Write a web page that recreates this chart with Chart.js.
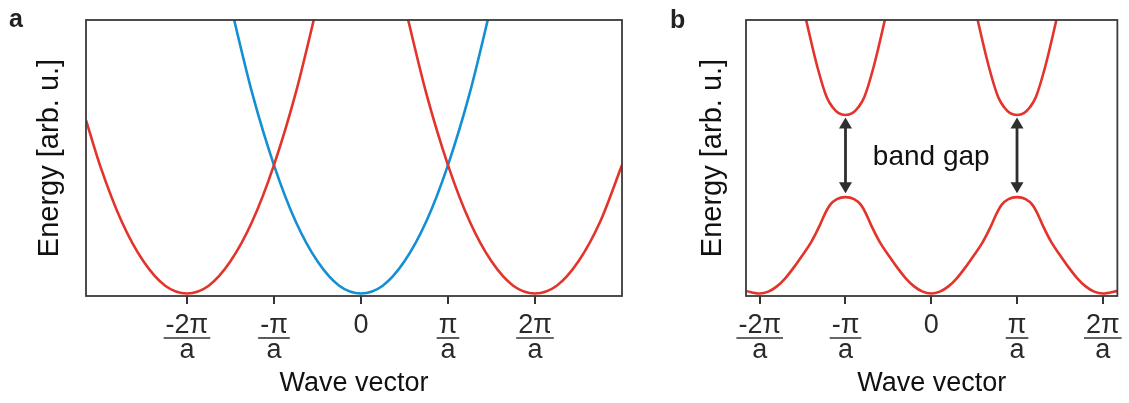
<!DOCTYPE html>
<html lang="en">
<head>
    <meta charset="UTF-8">
    <title>Band structure</title>
    <script src="https://cdn.jsdelivr.net/npm/chart.js"></script>
    <style>
        body {
            margin: 0;
            padding: 0;
            background: #ffffff;
            font-family: "Liberation Sans", Arial, sans-serif;
        }
        .wrap {
            position: relative;
            width: 1129px;
            height: 403px;
            overflow: hidden;
        }
        #chartA {
            position: absolute;
            left: 0;
            top: 0;
        }
        #chartB {
            position: absolute;
            left: 640px;
            top: 0;
        }
        .panel {
            position: absolute;
            font-weight: bold;
            font-size: 25px;
            line-height: 25px;
            color: #222;
        }
    </style>
</head>
<body>
    <div class="wrap">
        <canvas id="chartA" width="640" height="403"></canvas>
        <canvas id="chartB" width="489" height="403"></canvas>
        <div class="panel" style="left: 9px; top: 6px;">a</div>
        <div class="panel" style="left: 670px; top: 7px;">b</div>
    </div>

    <script>
        // tick positions in units of pi/a
        const tickVals = [-2, -1, 0, 1, 2];
        const tickNum = ['-2π', '-π', '0', 'π', '2π'];
        const tickDen = ['a', 'a', '', 'a', 'a'];

        // panel a: free electron parabolas
        const aBlueK = [-1.5, -1.25, -1, -0.75, -0.5, -0.25, 0, 0.25, 0.5, 0.75, 1, 1.25, 1.5];
        const aBlueE = [2.25, 1.56, 1, 0.56, 0.25, 0.06, 0, 0.06, 0.25, 0.56, 1, 1.56, 2.25];
        const aRedLeftK = [-3.16, -3, -2.75, -2.5, -2.25, -2, -1.75, -1.5, -1.25, -1, -0.75, -0.5];
        const aRedLeftE = [1.35, 1, 0.56, 0.25, 0.06, 0, 0.06, 0.25, 0.56, 1, 1.56, 2.25];
        const aRedRightK = [0.5, 0.75, 1, 1.25, 1.5, 1.75, 2, 2.25, 2.5, 2.75, 3];
        const aRedRightE = [2.25, 1.56, 1, 0.56, 0.25, 0.06, 0, 0.06, 0.25, 0.56, 1];

        // panel b: nearly free electron bands
        const bLowerK = [-2.17, -2, -1.9, -1.8, -1.7, -1.6, -1.5, -1.4, -1.3, -1.24, -1.18, -1.1, -1,
                         -0.9, -0.82, -0.76, -0.7, -0.6, -0.5, -0.4, -0.3, -0.2, -0.1, 0,
                         0.1, 0.2, 0.3, 0.4, 0.5, 0.6, 0.7, 0.76, 0.82, 0.9,
                         1, 1.1, 1.18, 1.24, 1.3, 1.4, 1.5, 1.6, 1.7, 1.8, 1.9, 2, 2.17];
        const bLowerE = [0.02, 0, 0.014, 0.055, 0.12, 0.205, 0.30, 0.40, 0.53, 0.62, 0.69, 0.735, 0.75,
                         0.735, 0.69, 0.62, 0.53, 0.40, 0.30, 0.205, 0.12, 0.055, 0.014, 0,
                         0.014, 0.055, 0.12, 0.205, 0.30, 0.40, 0.53, 0.62, 0.69, 0.735,
                         0.75, 0.735, 0.69, 0.62, 0.53, 0.40, 0.30, 0.205, 0.12, 0.055, 0.014, 0, 0.02];
        const bUpperLeftK = [-1.48, -1.33, -1.22, -1.15, -1.08, -1, -0.92, -0.85, -0.78, -0.67, -0.52];
        const bUpperLeftE = [2.19, 1.77, 1.53, 1.45, 1.405, 1.39, 1.405, 1.45, 1.53, 1.77, 2.19];
        const bUpperRightK = [0.52, 0.67, 0.78, 0.85, 0.92, 1, 1.08, 1.15, 1.22, 1.33, 1.48];
        const bUpperRightE = [2.19, 1.77, 1.53, 1.45, 1.405, 1.39, 1.405, 1.45, 1.53, 1.77, 2.19];

        // band gap arrows
        const gapK = [-1, 1];
        const gapTop = 1.37;
        const gapBottom = 0.78;

        const RED = '#e3342b';
        const BLUE = '#148fd3';
        const INK = '#333333';
        const FONT = '"Liberation Sans", Arial, sans-serif';
        const TICK_SIZE = 27;

        function pts(ks, es) {
            return ks.map((k, i) => ({ x: k, y: es[i] }));
        }

        function line(ks, es, color) {
            return {
                data: pts(ks, es),
                borderColor: color,
                borderWidth: 2.6,
                pointRadius: 0,
                fill: false,
                cubicInterpolationMode: 'monotone'
            };
        }

        // frame round the plot area and fraction bars under tick labels
        const framePlugin = {
            id: 'frame',
            afterDraw(chart) {
                const ctx = chart.ctx;
                const a = chart.chartArea;
                ctx.save();
                ctx.strokeStyle = '#3a3a3a';
                ctx.lineWidth = 1.8;
                ctx.strokeRect(a.left, a.top, a.right - a.left, a.bottom - a.top);

                const xs = chart.scales.x;
                ctx.font = TICK_SIZE + 'px ' + FONT;
                ctx.strokeStyle = INK;
                ctx.lineWidth = 1.6;
                tickVals.forEach((v, i) => {
                    if (!tickDen[i]) return;
                    const px = xs.getPixelForValue(v);
                    if (px < xs.left - 30 || px > xs.right + 30) return;
                    const w = ctx.measureText(tickNum[i]).width + 4;
                    const y = a.bottom + 42;
                    ctx.beginPath();
                    ctx.moveTo(px - w / 2, y);
                    ctx.lineTo(px + w / 2, y);
                    ctx.stroke();
                });
                ctx.restore();
            }
        };

        const gapPlugin = {
            id: 'gap',
            afterDatasetsDraw(chart) {
                const ctx = chart.ctx;
                const xs = chart.scales.x;
                const ys = chart.scales.y;
                const yT = ys.getPixelForValue(gapTop);
                const yB = ys.getPixelForValue(gapBottom);
                const head = 11, half = 6.5;
                ctx.save();
                ctx.strokeStyle = '#2e2e2e';
                ctx.fillStyle = '#2e2e2e';
                ctx.lineWidth = 2.8;
                gapK.forEach(k => {
                    const px = xs.getPixelForValue(k);
                    ctx.beginPath();
                    ctx.moveTo(px, yT + head - 1);
                    ctx.lineTo(px, yB - head + 1);
                    ctx.stroke();
                    ctx.beginPath();
                    ctx.moveTo(px, yT);
                    ctx.lineTo(px - half, yT + head);
                    ctx.lineTo(px + half, yT + head);
                    ctx.closePath();
                    ctx.fill();
                    ctx.beginPath();
                    ctx.moveTo(px, yB);
                    ctx.lineTo(px - half, yB - head);
                    ctx.lineTo(px + half, yB - head);
                    ctx.closePath();
                    ctx.fill();
                });
                ctx.fillStyle = '#111';
                ctx.font = '28px ' + FONT;
                ctx.textAlign = 'center';
                ctx.textBaseline = 'alphabetic';
                ctx.fillText('band gap', xs.getPixelForValue(0), ys.getPixelForValue(1.05) + 6);
                ctx.restore();
            }
        };

        function makeOptions(xMin, xMax, yWidth, pad) {
            return {
                responsive: false,
                animation: false,
                devicePixelRatio: 1,
                layout: { padding: pad },
                plugins: { legend: { display: false }, tooltip: { enabled: false } },
                scales: {
                    x: {
                        type: 'linear',
                        min: xMin,
                        max: xMax,
                        afterBuildTicks: s => { s.ticks = tickVals.map(v => ({ value: v })); },
                        afterFit: s => { s.height = 107; },
                        border: { display: false },
                        grid: {
                            drawOnChartArea: false,
                            drawTicks: true,
                            tickLength: 8,
                            color: INK,
                            lineWidth: 2
                        },
                        ticks: {
                            autoSkip: false,
                            maxRotation: 0,
                            padding: 9,
                            color: '#2a2a2a',
                            font: { family: FONT, size: TICK_SIZE, lineHeight: '25px' },
                            callback: v => {
                                const i = tickVals.indexOf(v);
                                if (i < 0) return '';
                                return tickDen[i] ? [tickNum[i], tickDen[i]] : [tickNum[i]];
                            }
                        },
                        title: {
                            display: true,
                            text: 'Wave vector',
                            color: '#111',
                            font: { family: FONT, size: 27 },
                            padding: { top: 0, bottom: 3 }
                        }
                    },
                    y: {
                        min: -0.02,
                        max: 2.13,
                        afterFit: s => { s.width = yWidth; },
                        border: { display: false },
                        grid: { display: false },
                        ticks: { display: false },
                        title: {
                            display: true,
                            text: 'Energy [arb. u.]',
                            color: '#111',
                            font: { family: FONT, size: 29 },
                            padding: { top: 3, bottom: 0 }
                        }
                    }
                }
            };
        }

        new Chart(document.getElementById('chartA'), {
            type: 'line',
            data: {
                datasets: [
                    line(aRedLeftK, aRedLeftE, RED),
                    line(aRedRightK, aRedRightE, RED),
                    line(aBlueK, aBlueE, BLUE)
                ]
            },
            options: makeOptions(-3.16, 3.0, 56, { left: 30, top: 20, right: 18, bottom: 0 }),
            plugins: [framePlugin]
        });

        new Chart(document.getElementById('chartB'), {
            type: 'line',
            data: {
                datasets: [
                    line(bLowerK, bLowerE, RED),
                    line(bUpperLeftK, bUpperLeftE, RED),
                    line(bUpperRightK, bUpperRightE, RED)
                ]
            },
            options: makeOptions(-2.16, 2.17, 53, { left: 53, top: 20, right: 10, bottom: 0 }),
            plugins: [framePlugin, gapPlugin]
        });
    </script>
</body>
</html>
